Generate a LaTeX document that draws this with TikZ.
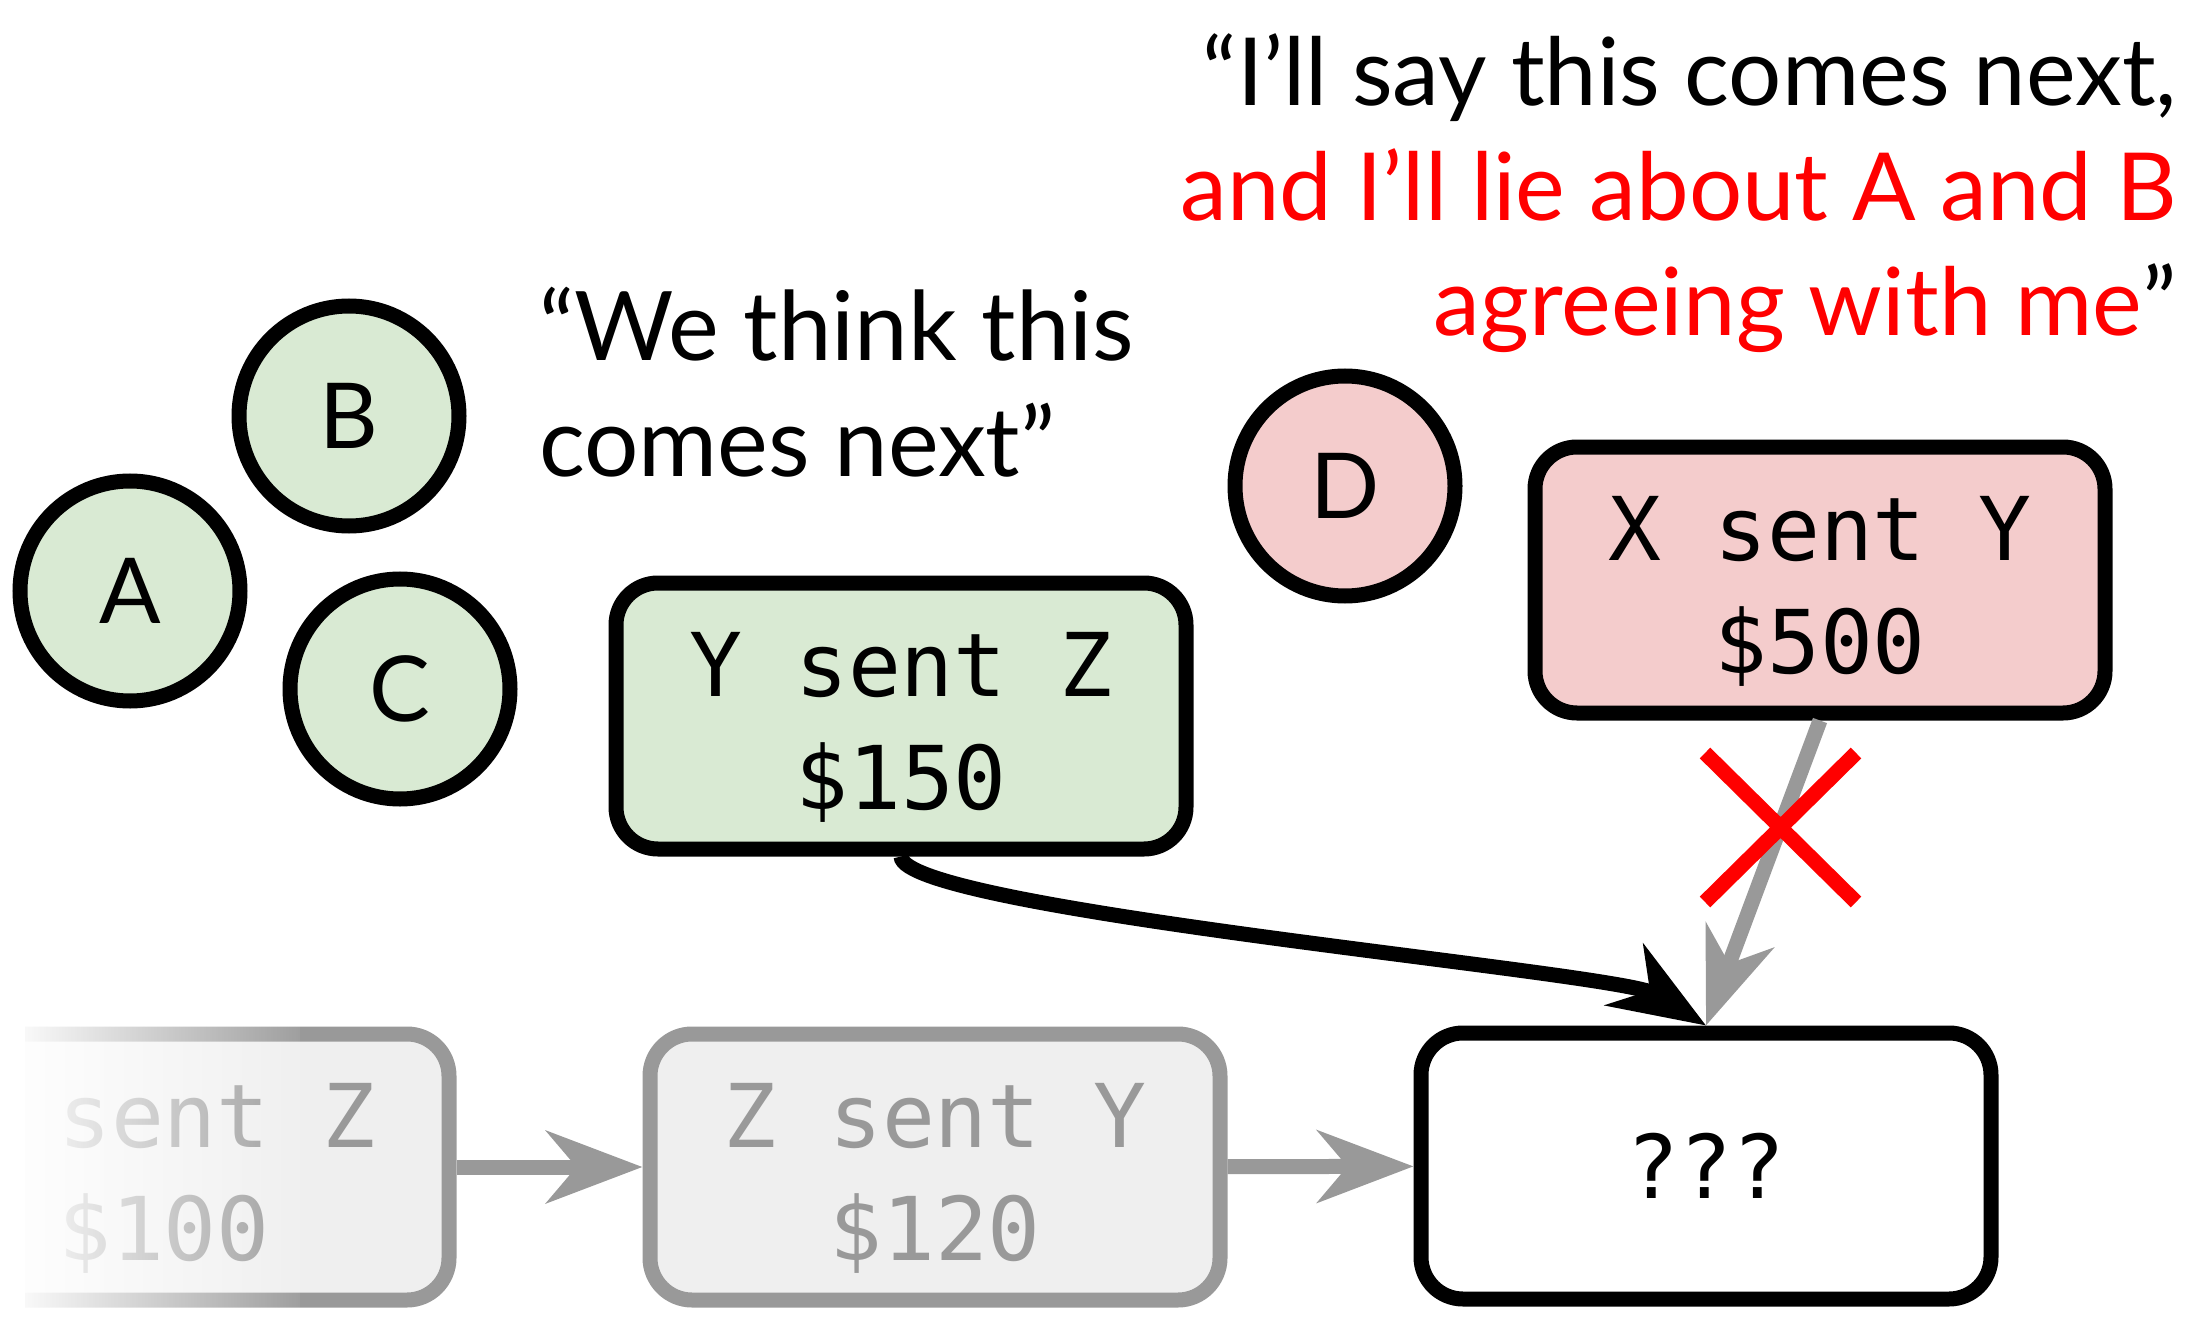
\documentclass[tikz,border=0pt]{standalone}
\usepackage{fontspec}
\setmainfont{Lato}
\newfontfamily\monofont{DejaVu Sans Mono}
\usetikzlibrary{arrows.meta,fadings}
\definecolor{gfill}{HTML}{D9EAD3}
\definecolor{pfill}{HTML}{F4CCCC}
\definecolor{greyfill}{HTML}{EFEFEF}
\definecolor{greyline}{HTML}{999999}
\definecolor{redx}{HTML}{FF0000}
\begin{tikzfadingfrompicture}[name=myfade]
\shade[left color=transparent!0, right color=transparent!100] (0,0) rectangle (2,2);
\end{tikzfadingfrompicture}
\begin{document}
\begin{tikzpicture}[x=1pt,y=-1pt,
  peer/.style={circle, draw=black, line width=15pt, minimum size=220pt, inner sep=0pt, font=\fontsize{91}{109}\selectfont},
  txbox/.style={rectangle, rounded corners=42pt, draw=black, line width=15pt, minimum width=570pt, minimum height=266pt, inner sep=0pt, align=center, font=\monofont\fontsize{88}{113}\selectfont},
  twoline/.style={text height=199pt, text depth=13pt},
  oldbox/.style={txbox, twoline, draw=greyline, fill=greyfill, text=greyline},
  quote/.style={inner sep=0pt, font=\fontsize{96}{115}\selectfont},
  bigquote/.style={inner sep=0pt, font=\fontsize{94}{115}\selectfont},
  conn/.style={line width=15pt, -{Stealth[length=96pt,width=72pt,inset=30pt]}},
]
\useasboundingbox (0,0) rectangle (2195,1321);

% peers
\node[peer, fill=gfill] (A) at (130,591) {A};
\node[peer, fill=gfill] (B) at (349,416) {B};
\node[peer, fill=gfill] (C) at (400,689) {C};
\node[peer, fill=pfill] (D) at (1345,486) {D};

% quotes
\node[quote, anchor=base west] (q2a) at (539,361) {“We think this};
\node[quote, anchor=base west] (q2b) at (539,476) {comes next”};
\node[bigquote, anchor=base east] (q1a) at (2177,106) {“I’ll say this comes next,};
\node[bigquote, anchor=base east, text=redx] (q1b) at (2177,221) {and I’ll lie about A and B};
\node[bigquote, anchor=base east] (q1c) at (2177,336) {\textcolor{redx}{agreeing with me}”};

% boxes
\node[txbox, twoline, fill=gfill] (ysz) at (901,716) {Y sent Z\\\$150};
\node[txbox, twoline, fill=pfill] (xsy) at (1820,580) {X sent Y\\\$500};
\node[txbox, fill=white] (unk) at (1706,1166) {???};
\node[oldbox] (old2) at (935,1167) {Z sent Y\\\$120};
\node[oldbox] (old1) at (164,1167) {X sent Z\\\$100};
\fill[white] (-200,1000) rectangle (25,1321);
\fill[white, path fading=myfade] (25,1000) rectangle (300,1321);

% connectors
\draw[conn, greyline] (old1) -- (old2);
\draw[conn, greyline] (old2) -- (unk);
\draw[conn] (ysz.south) .. controls (903,910) and (1620,972) .. (unk.north);
\draw[conn, greyline] (xsy.south) -- (unk.north);

% red cross
\draw[redx, line width=15pt] (1705,753) -- (1856,902) (1705,902) -- (1856,753);
\end{tikzpicture}
\end{document}
